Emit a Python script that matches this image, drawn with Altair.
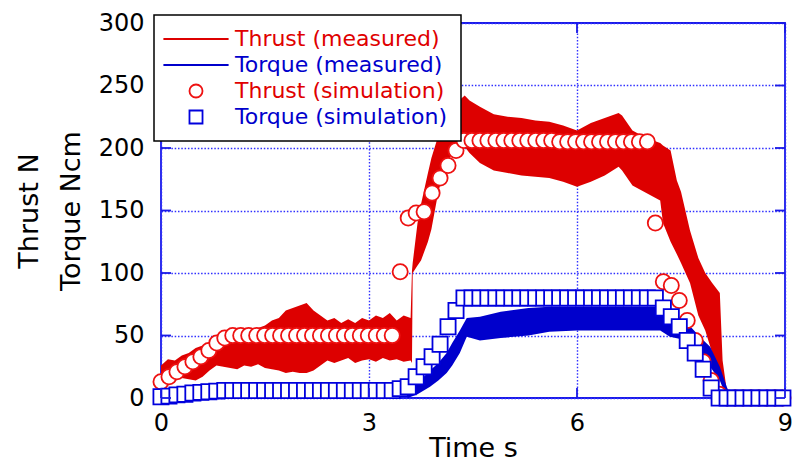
import altair as alt
import pandas as pd

# ---------------- data ----------------
# measured thrust: noisy band, lower / upper envelope
thrust_meas_t = [0.0, 0.1, 0.2, 0.3, 0.4, 0.5, 0.6, 0.7, 0.8, 0.9,
                 1.0, 1.1, 1.2, 1.3, 1.4, 1.5, 1.6, 1.7, 1.8, 1.9,
                 2.0, 2.1, 2.2, 2.3, 2.4, 2.5, 2.6, 2.7, 2.8, 2.9,
                 3.0, 3.1, 3.2, 3.3, 3.4, 3.5, 3.6, 3.62, 3.63, 3.7,
                 3.75, 3.85, 3.9, 4.0, 4.1, 4.2, 4.3, 4.38, 4.45, 4.6,
                 4.8, 5.0, 5.2, 5.4, 5.6, 5.8, 6.0, 6.2, 6.4, 6.6,
                 6.65, 6.8, 7.0, 7.2, 7.24, 7.35, 7.44, 7.5, 7.63, 7.75,
                 7.85, 7.95, 8.06, 8.1, 8.16, 8.22, 9.0]
thrust_meas_lo = [12, 15, 18, 16, 15, 14, 17, 22, 26, 25,
                  24, 23, 26, 25, 27, 24, 23, 22, 20, 21,
                  20, 20, 22, 26, 30, 28, 30, 32, 28, 30,
                  31, 29, 32, 30, 31, 29, 30, 28, 100, 106,
                  110, 125, 135, 165, 185, 196, 200, 201, 196, 188,
                  182, 180, 178, 177, 176, 173, 169, 173, 178, 185,
                  182, 170, 164, 158, 140, 125, 115, 108, 92, 66,
                  54, 36, 20, 12, 2, 0, 0]
thrust_meas_hi = [26, 31, 30, 34, 36, 40, 42, 41, 45, 47,
                  46, 50, 52, 54, 56, 58, 62, 64, 70, 72,
                  74, 76, 70, 66, 62, 64, 60, 63, 60, 64,
                  62, 66, 64, 68, 62, 66, 64, 102, 108, 140,
                  155, 180, 192, 210, 222, 230, 238, 242, 238, 233,
                  227, 225, 224, 222, 221, 218, 214, 220, 224, 228,
                  226, 214, 208, 204, 202, 198, 174, 165, 134, 112,
                  100, 92, 84, 30, 6, 3, 3]

# measured torque: noisy band, lower / upper envelope
torque_meas_t = [0.0, 0.3, 0.6, 1.0, 1.5, 2.0, 2.5, 3.0, 3.5,
                 3.56, 3.7, 3.88, 4.0, 4.12, 4.2, 4.31, 4.41,
                 4.6, 4.9, 5.3, 5.6, 6.0, 6.5, 7.0, 7.2,
                 7.34, 7.59, 7.77, 7.92, 8.06, 8.16, 8.22, 9.0]
torque_meas_lo = [0, 3, 5, 6, 6, 6, 6, 6, 6,
                  0, 3, 9, 14, 20, 26, 36, 49,
                  46, 48, 50, 53, 54, 54, 54, 54,
                  49, 46, 36, 25, 14, 0, 0, 0]
torque_meas_hi = [3, 6, 8, 9, 10, 10, 10, 10, 10,
                  3, 12, 22, 28, 36, 44, 54, 64,
                  65, 69, 72, 73, 73, 73, 73, 73,
                  68, 60, 49, 41, 25, 9, 1, 1]

# simulation (markers)
sim_t = [0.0, 0.115, 0.23, 0.345, 0.46, 0.575, 0.69, 0.805, 0.92, 1.035,
         1.15, 1.265, 1.38, 1.495, 1.61, 1.725, 1.84, 1.955, 2.07, 2.185,
         2.3, 2.415, 2.53, 2.645, 2.76, 2.875, 2.99, 3.105, 3.22, 3.335,
         3.45, 3.565, 3.68, 3.795, 3.91, 4.025, 4.14, 4.255, 4.37, 4.485,
         4.6, 4.715, 4.83, 4.945, 5.06, 5.175, 5.29, 5.405, 5.52, 5.635,
         5.75, 5.865, 5.98, 6.095, 6.21, 6.325, 6.44, 6.555, 6.67, 6.785,
         6.9, 7.015, 7.13, 7.245, 7.36, 7.475, 7.59, 7.705, 7.82, 7.935,
         8.05, 8.165, 8.28, 8.395, 8.51, 8.625, 8.74, 8.855, 8.97]
thrust_sim = [13, 17, 21, 25, 29, 33, 38, 44, 48, 50,
              50, 50, 50, 50, 50, 50, 50, 50, 50, 50,
              50, 50, 50, 50, 50, 50, 50, 50, 50, 50,
              101, 144, 148, 149, 164, 176, 186, 198, 206, 206,
              206, 206, 206, 206, 206, 206, 206, 206, 206, 206,
              205, 205, 205, 205, 205, 205, 205, 205, 205, 205,
              205, 205, 140, 93, 90, 78, 62, 46, 29, 14,
              3, 0, 0, 0, 0, 0, 0, 0, 0]
torque_sim = [1, 1.5, 2.5, 3, 4, 4.5, 5, 5.5, 6, 6,
              6, 6, 6, 6, 6, 6, 6, 6, 6, 6,
              6, 6, 6, 6, 6, 6, 6, 6, 6, 6,
              7.5, 9, 17, 25, 33, 43, 57, 70, 80, 80,
              80, 80, 80, 80, 80, 80, 80, 80, 80, 80,
              80, 80, 80, 80, 80, 80, 80, 80, 80, 80,
              80, 80, 80, 72, 65, 57, 46, 36, 23, 8,
              0, 0, 0, 0, 0, 0, 0, 0, 0]

series_names = ["Thrust (measured)", "Torque (measured)",
                "Thrust (simulation)", "Torque (simulation)"]
x_ticks = [0, 3, 6, 9]
y_ticks = [0, 50, 100, 150, 200, 250, 300]

# ---------------- styling ----------------
RED = "#dd0000"
BLUE = "#0000cc"
FRAME = "#1a1ae6"
GRID = "#3030ff"
FONT = "DejaVu Sans"
W, H = 624, 375
LINE_PATH = "M-5,0L5,0"

df_thrust = pd.DataFrame({"t": thrust_meas_t, "lo": thrust_meas_lo, "hi": thrust_meas_hi})
df_torque = pd.DataFrame({"t": torque_meas_t, "lo": torque_meas_lo, "hi": torque_meas_hi})
df_sim = pd.DataFrame({
    "t": sim_t + sim_t,
    "v": thrust_sim + torque_sim,
    "series": [series_names[2]] * len(sim_t) + [series_names[3]] * len(sim_t),
})
df_xt = pd.DataFrame({"t": x_ticks})
df_yt = pd.DataFrame({"v": y_ticks})

xs = alt.Scale(domain=[0, 9], nice=False, zero=False)
ys = alt.Scale(domain=[0, 300], nice=False)

xaxis = alt.Axis(values=x_ticks, title="Time s", labelPadding=13, titlePadding=0,
                 labelFlush=False, labelOverlap=False)
yaxis = alt.Axis(values=y_ticks, title=["Thrust N", "Torque Ncm"], labelPadding=17,
                 titlePadding=13, titleLineHeight=42, labelOverlap=False)


def X(field):
    return alt.X(field, type="quantitative", scale=xs, axis=xaxis)


def Y(field):
    return alt.Y(field, type="quantitative", scale=ys, axis=yaxis)


thrust_band = alt.Chart(df_thrust).mark_area(color=RED, opacity=1).encode(
    x=X("t"), y=Y("lo"), y2="hi")
torque_band = alt.Chart(df_torque).mark_area(color=BLUE, opacity=1).encode(
    x=X("t"), y=Y("lo"), y2="hi")

legend = alt.Legend(
    title=None, orient="none", legendX=-7, legendY=-8,
    fillColor="white", strokeColor="black",
    padding=13, rowPadding=4, labelFont=FONT, labelFontSize=22,
    labelColor={"expr": "indexof(datum.label, 'Thrust') == 0 ? '#e00000' : '#0000cc'"},
    symbolSize=170, symbolStrokeWidth=1.8, symbolOffset=18, labelOffset=28,
    labelLimit=0,
)

markers = alt.Chart(df_sim).mark_point(
    filled=False, fill="white", fillOpacity=1, size=230, strokeWidth=1.8, opacity=1
).encode(
    x=X("t"), y=Y("v"),
    color=alt.Color("series:N", scale=alt.Scale(domain=series_names,
                    range=[RED, BLUE, "#ee1111", "#0000dd"]), legend=legend),
    shape=alt.Shape("series:N", scale=alt.Scale(domain=series_names,
                    range=[LINE_PATH, LINE_PATH, "circle", "square"]), legend=legend),
)

tick_style = dict(color=FRAME, strokeWidth=1.8)
xt_bottom = alt.Chart(df_xt).mark_rule(**tick_style).encode(
    x=X("t"), y=alt.value(H), y2=alt.value(H - 10))
xt_top = alt.Chart(df_xt).mark_rule(**tick_style).encode(
    x=X("t"), y=alt.value(0), y2=alt.value(10))
yt_left = alt.Chart(df_yt).mark_rule(**tick_style).encode(
    y=Y("v"), x=alt.value(0), x2=alt.value(10))
yt_right = alt.Chart(df_yt).mark_rule(**tick_style).encode(
    y=Y("v"), x=alt.value(W), x2=alt.value(W - 10))

chart = alt.layer(
    thrust_band, torque_band, markers, xt_bottom, xt_top, yt_left, yt_right
).properties(
    width=W, height=H,
    padding={"left": 161, "top": 23, "right": 7, "bottom": 63},
    autosize=alt.AutoSizeParams(type="none"),
    background="white",
).configure_view(
    stroke=FRAME, strokeWidth=1.8
).configure_legend(
    strokeWidth=1.5
).configure_axis(
    domain=False, ticks=False, tickSize=0, grid=True,
    gridColor=GRID, gridDash=[1.5, 1.8], gridWidth=1.4,
    labelFont=FONT, labelFontSize=24, labelColor="black",
    titleFont=FONT, titleFontSize=27, titleFontWeight="normal", titleColor="black",
)

chart.save("out.html", embed_options={"renderer": "svg", "actions": False})
